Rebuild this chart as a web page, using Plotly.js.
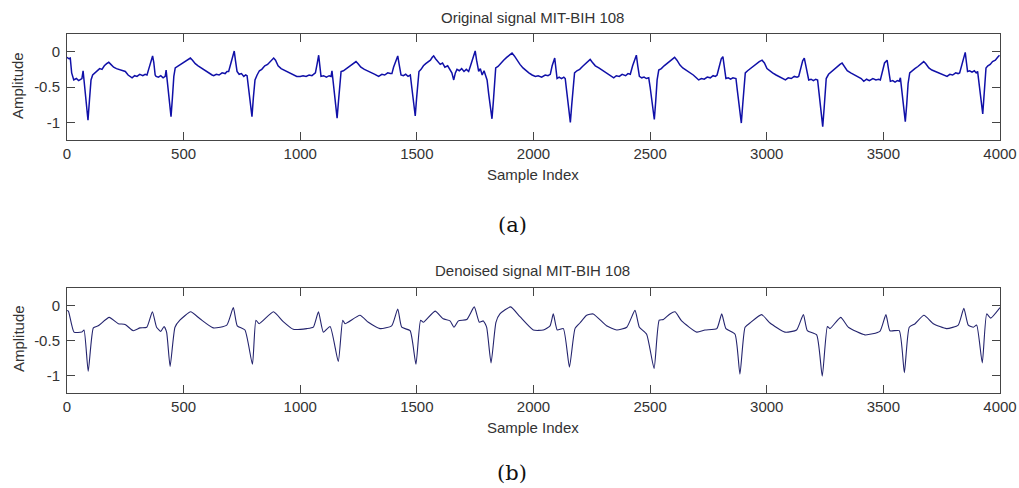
<!DOCTYPE html>
<html>
<head>
<meta charset="utf-8">
<script src="https://cdn.plot.ly/plotly-3.0.1.min.js"></script>
<style>html,body{margin:0;padding:0;background:#fff;}#chart{width:1019px;height:488px;}</style>
</head>
<body>
<div id="chart"></div>
<script>
// Original signal (sample index, amplitude)
const origX = [0,8,14,20,29,40,50,58,64,69,74,82,90,96,103,110,120,130,140,150,160,170,179,188,200,212,225,238,250,262,272,279,290,300,312,325,335,343,350,360,367,372,378,382,392,402,412,421,425,430,438,446,452,458,464,474,485,498,510,520,529,538,550,562,575,588,600,612,622,629,640,652,665,678,686,693,700,710,717,722,729,738,748,758,766,772,778,786,793,799,806,815,825,835,848,860,872,880,886,894,905,918,930,945,958,972,985,1000,
1012,1025,1038,1050,1060,1065,1072,1079,1084,1089,1100,1112,1124,1132,1136,1142,1150,1158,1164,1170,1175,1185,1198,1210,1222,1232,1239,1248,1260,1275,1290,1305,1320,1336,1350,1362,1375,1386,1393,1400,1410,1418,1424,1432,1442,1452,1462,1472,1478,1486,1493,1499,1504,1509,1518,1528,1538,1548,1558,1566,1572,1580,1590,1600,1610,1620,1632,1642,1650,1658,1665,1672,1682,1692,1702,1712,1722,1730,1740,1750,1756,1765,1772,1780,1788,1795,1801,1808,1815,1822,1828,1834,1838,1848,1860,1872,1885,1898,1908,1918,1930,1942,1955,1968,1980,1994,2008,
2020,2035,2050,2062,2072,2080,2091,2096,2101,2110,2120,2130,2136,2142,2150,2158,2164,2170,2176,2186,2198,2210,2222,2232,2243,2252,2265,2280,2295,2310,2325,2335,2344,2355,2368,2380,2395,2405,2415,2425,2434,2441,2447,2454,2464,2474,2484,2494,2500,2510,2518,2524,2530,2537,2548,2560,2572,2585,2597,2605,2615,2628,2640,2655,2670,2685,2698,2708,2720,2732,2745,2758,2770,2780,2787,2795,2805,2812,2818,2825,2835,2845,2855,2862,2868,2874,2882,2891,2897,2903,2908,2918,2930,2942,2955,2968,2980,2990,3001,3012,
3025,3040,3055,3068,3080,3092,3105,3118,3130,3137,3145,3154,3161,3168,3175,3180,3190,3200,3210,3218,3224,3232,3240,3246,3251,3255,3265,3278,3290,3302,3314,3323,3332,3345,3360,3375,3390,3405,3416,3428,3440,3455,3468,3480,3487,3495,3505,3516,3522,3530,3540,3550,3560,3568,3573,3578,3586,3594,3600,3606,3613,3622,3635,3648,3660,3673,3682,3695,3708,3722,3738,3752,3765,3773,3785,3797,3810,3820,3827,3835,3844,3851,3856,3861,3870,3880,3890,3898,3904,3910,3918,3926,3932,3936,3940,3948,3958,3968,3980,3990,3998];
const origY = [-0.08,-0.1,-0.09,-0.3,-0.40,-0.38,-0.41,-0.39,-0.38,-0.27,-0.45,-0.75,-0.97,-0.7,-0.4,-0.33,-0.3,-0.28,-0.24,-0.25,-0.2,-0.17,-0.15,-0.18,-0.22,-0.24,-0.25,-0.27,-0.28,-0.33,-0.36,-0.37,-0.34,-0.35,-0.32,-0.34,-0.32,-0.33,-0.25,-0.12,-0.06,-0.15,-0.33,-0.35,-0.36,-0.34,-0.37,-0.35,-0.26,-0.42,-0.7,-0.92,-0.65,-0.35,-0.23,-0.21,-0.18,-0.16,-0.13,-0.11,-0.09,-0.12,-0.17,-0.2,-0.23,-0.25,-0.28,-0.31,-0.33,-0.34,-0.32,-0.33,-0.3,-0.31,-0.28,-0.28,-0.2,-0.08,0.01,-0.12,-0.28,-0.32,-0.31,-0.35,-0.33,-0.34,-0.5,-0.75,-0.92,-0.65,-0.4,-0.33,-0.27,-0.25,-0.2,-0.18,-0.14,-0.1,-0.09,-0.12,-0.2,-0.24,-0.26,-0.29,-0.31,-0.33,-0.35,-0.35,
-0.34,-0.35,-0.33,-0.34,-0.32,-0.3,-0.18,-0.05,-0.2,-0.35,-0.34,-0.36,-0.34,-0.35,-0.27,-0.45,-0.72,-0.94,-0.7,-0.4,-0.28,-0.27,-0.24,-0.22,-0.19,-0.16,-0.14,-0.17,-0.22,-0.25,-0.27,-0.3,-0.32,-0.35,-0.32,-0.33,-0.3,-0.31,-0.31,-0.22,-0.12,-0.06,-0.18,-0.33,-0.34,-0.32,-0.35,-0.33,-0.5,-0.75,-0.91,-0.65,-0.4,-0.28,-0.25,-0.2,-0.17,-0.14,-0.12,-0.08,-0.06,-0.1,-0.14,-0.18,-0.16,-0.22,-0.2,-0.26,-0.3,-0.40,-0.3,-0.25,-0.27,-0.24,-0.28,-0.25,-0.28,-0.2,-0.08,0.01,-0.12,-0.28,-0.24,-0.33,-0.27,-0.35,-0.4,-0.6,-0.8,-0.95,-0.7,-0.35,-0.23,-0.21,-0.16,-0.12,-0.08,-0.05,-0.02,-0.06,-0.13,-0.18,-0.23,-0.27,-0.3,-0.33,-0.35,
-0.34,-0.36,-0.33,-0.34,-0.32,-0.2,-0.09,-0.2,-0.38,-0.36,-0.38,-0.36,-0.38,-0.55,-0.8,-1.0,-0.75,-0.45,-0.30,-0.27,-0.25,-0.21,-0.17,-0.14,-0.11,-0.15,-0.2,-0.23,-0.26,-0.29,-0.33,-0.35,-0.37,-0.34,-0.35,-0.32,-0.34,-0.31,-0.32,-0.2,-0.1,-0.05,-0.2,-0.35,-0.37,-0.36,-0.38,-0.37,-0.5,-0.78,-0.96,-0.7,-0.4,-0.26,-0.24,-0.2,-0.17,-0.13,-0.1,-0.08,-0.12,-0.19,-0.23,-0.26,-0.3,-0.33,-0.37,-0.40,-0.38,-0.39,-0.36,-0.37,-0.34,-0.35,-0.33,-0.22,-0.1,-0.07,-0.2,-0.38,-0.37,-0.39,-0.37,-0.38,-0.38,-0.55,-0.8,-1.01,-0.75,-0.45,-0.30,-0.27,-0.24,-0.2,-0.17,-0.14,-0.12,-0.16,-0.24,-0.27,
-0.3,-0.33,-0.36,-0.38,-0.40,-0.37,-0.38,-0.35,-0.36,-0.35,-0.25,-0.13,-0.09,-0.2,-0.35,-0.40,-0.39,-0.41,-0.39,-0.40,-0.58,-0.85,-1.06,-0.8,-0.5,-0.38,-0.32,-0.28,-0.25,-0.22,-0.18,-0.16,-0.2,-0.27,-0.3,-0.33,-0.35,-0.38,-0.42,-0.39,-0.41,-0.38,-0.4,-0.39,-0.4,-0.28,-0.16,-0.12,-0.25,-0.42,-0.41,-0.43,-0.41,-0.42,-0.37,-0.5,-0.75,-0.99,-0.75,-0.45,-0.30,-0.27,-0.24,-0.21,-0.17,-0.14,-0.17,-0.23,-0.26,-0.28,-0.31,-0.33,-0.34,-0.35,-0.32,-0.33,-0.3,-0.31,-0.3,-0.2,-0.08,-0.01,-0.15,-0.28,-0.27,-0.29,-0.27,-0.3,-0.28,-0.45,-0.7,-0.88,-0.6,-0.35,-0.23,-0.2,-0.18,-0.14,-0.12,-0.08,-0.05];

// Denoised signal (sample index, amplitude)
const denX = [0,6,30,63,73,91,113,134,181,220,249,284,313,342,366,384,402,416,427,442,463,484,530,570,627,685,713,730,763,795,810,824,885,927,970,1028,1056,1078,1099,1128,1163,1182,1192,1256,1292,1342,1392,1418,1435,1471,1496,1516,1528,1578,1613,1642,1659,1678,1714,1746,1768,1785,1799,1818,1839,1856,1902,1942,1999,2042,2071,2085,2102,2128,2154,2178,2199,2228,2256,2313,2357,2400,2435,2454,2485,2517,2539,2557,2585,2607,2635,2700,2735,2786,2807,2825,2864,2885,2907,2928,2978,3014,3078,3128,3157,3174,3214,3238,3260,3271,3317,3350,3421,3485,3511,3528,3568,3590,3611,3636,3674,3714,3771,3821,3845,3864,3886,3900,3924,3943,3960,4000];
const denY = [-0.07,-0.08,-0.38,-0.38,-0.35,-0.94,-0.32,-0.29,-0.17,-0.26,-0.27,-0.36,-0.32,-0.31,-0.09,-0.31,-0.37,-0.30,-0.38,-0.87,-0.31,-0.21,-0.09,-0.19,-0.32,-0.28,-0.03,-0.29,-0.35,-0.84,-0.21,-0.26,-0.09,-0.23,-0.34,-0.33,-0.31,-0.09,-0.38,-0.30,-0.80,-0.21,-0.26,-0.14,-0.24,-0.33,-0.29,-0.05,-0.31,-0.36,-0.84,-0.21,-0.24,-0.08,-0.19,-0.22,-0.31,-0.22,-0.20,-0.02,-0.24,-0.22,-0.31,-0.82,-0.24,-0.12,-0.02,-0.16,-0.35,-0.35,-0.29,-0.12,-0.35,-0.33,-0.88,-0.33,-0.25,-0.14,-0.12,-0.29,-0.35,-0.31,-0.07,-0.31,-0.41,-0.90,-0.21,-0.20,-0.12,-0.09,-0.22,-0.38,-0.35,-0.33,-0.12,-0.33,-0.41,-0.98,-0.31,-0.25,-0.13,-0.25,-0.38,-0.35,-0.13,-0.36,-0.42,-1.01,-0.30,-0.33,-0.17,-0.31,-0.42,-0.37,-0.13,-0.36,-0.36,-0.96,-0.31,-0.26,-0.14,-0.26,-0.33,-0.28,-0.04,-0.28,-0.31,-0.28,-0.82,-0.12,-0.18,-0.03];

const xTicks = [0,500,1000,1500,2000,2500,3000,3500,4000];
const yTicks = [-1,-0.5,0];
const yTickText = ["-1","-0.5","0"];

const titleTop = "Original signal MIT-BIH 108";
const titleBottom = "Denoised signal MIT-BIH 108";
const xLabel = "Sample Index";
const yLabel = "Amplitude";
const panelA = "(a)";
const panelB = "(b)";

const sans = "Liberation Sans, Arial, sans-serif";
const txtColor = "#333333";
const frame = "#454545";

function xAxis(anchor){
  return {domain:[0.06575,0.98135], range:[0,4000], anchor:anchor, tickvals:xTicks,
    ticks:"inside", ticklen:8, tickwidth:1, tickcolor:frame, showline:true, mirror:"ticks",
    linecolor:frame, linewidth:1, showgrid:false, zeroline:false, fixedrange:true,
    tickfont:{family:sans, size:15, color:txtColor}};
}
function yAxis(anchor, dom){
  return {domain:dom, range:[-1.25,0.25], anchor:anchor, tickvals:yTicks, ticktext:yTickText,
    ticks:"inside", ticklen:8, tickwidth:1, tickcolor:frame, showline:true, mirror:"ticks",
    linecolor:frame, linewidth:1, showgrid:false, zeroline:false, fixedrange:true,
    ticklabelstandoff:3,
    tickfont:{family:sans, size:15, color:txtColor}};
}

const traces = [
  {x:origX, y:origY, type:"scatter", mode:"lines", xaxis:"x", yaxis:"y",
   line:{color:"#1010a8", width:1.5}, hoverinfo:"skip"},
  {x:denX, y:denY, type:"scatter", mode:"lines", xaxis:"x2", yaxis:"y2",
   line:{color:"#24246e", width:1.1, shape:"spline", smoothing:0.5}, hoverinfo:"skip"}
];

function ann(text, x, y, font, angle){
  const a = {text:text, x:x, y:y, xref:"paper", yref:"paper", xanchor:"center", yanchor:"middle",
    showarrow:false, font:font};
  if (angle) a.textangle = angle;
  return a;
}

const layout = {
  width:1019, height:488, margin:{l:0,r:0,t:0,b:0},
  paper_bgcolor:"#ffffff", plot_bgcolor:"#ffffff", showlegend:false,
  xaxis:xAxis("y"), yaxis:yAxis("x",[0.7131,0.9303]),
  xaxis2:xAxis("y2"), yaxis2:yAxis("x2",[0.1947,0.4098]),
  annotations:[
    ann(titleTop, 0.523, 0.965, {family:sans, size:15, color:txtColor}),
    ann(xLabel, 0.523, 0.6414, {family:sans, size:15, color:txtColor}),
    ann(yLabel, 0.0177, 0.8238, {family:sans, size:15, color:txtColor}, -90),
    ann(panelA, 0.5025, 0.5389, {family:"DejaVu Serif, serif", size:21, color:"#111111"}),
    ann(titleBottom, 0.523, 0.4447, {family:sans, size:15, color:txtColor}),
    ann(xLabel, 0.523, 0.125, {family:sans, size:15, color:txtColor}),
    ann(yLabel, 0.0177, 0.3053, {family:sans, size:15, color:txtColor}, -90),
    ann(panelB, 0.5025, 0.0307, {family:"DejaVu Serif, serif", size:21, color:"#111111"})
  ]
};

Plotly.newPlot("chart", traces, layout, {staticPlot:true, displayModeBar:false});
</script>
</body>
</html>
